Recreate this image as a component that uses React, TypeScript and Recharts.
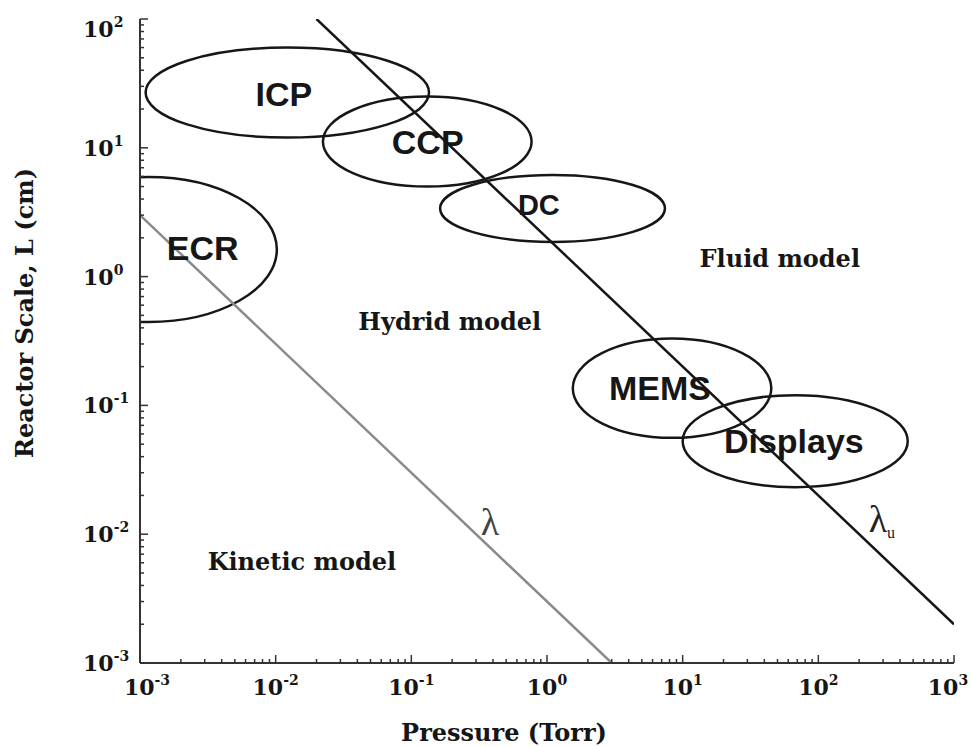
import { ComposedChart, Line, XAxis, YAxis, ReferenceArea, ReferenceDot, Label } from 'recharts';

// axis decades (pressure in Torr, reactor scale in cm)
const pressureDecades = [1e-3, 1e-2, 1e-1, 1, 10, 100, 1000];
const scaleDecades = [1e-3, 1e-2, 1e-1, 1, 10, 100];
const minorSteps = [2, 3, 4, 5, 6, 7, 8, 9];

// mean free path lines
const lambdaLine = [
  { p: 1e-3, v: 3 },
  { p: 3, v: 1e-3 },
];
const lambdaULine = [
  { p: 0.02, v: 100 },
  { p: 1000, v: 0.002 },
];

// operating regions of each reactor type (pressure range x scale range)
const reactors = [
  { name: 'ICP', pMin: 1.1e-3, pMax: 0.135, lMin: 12, lMax: 60 },
  { name: 'CCP', pMin: 0.0223, pMax: 0.77, lMin: 5, lMax: 25 },
  { name: 'DC', pMin: 0.163, pMax: 7.4, lMin: 1.86, lMax: 6.15 },
  { name: 'ECR', pMin: 1.3e-4, pMax: 0.0102, lMin: 0.444, lMax: 5.93 },
  { name: 'MEMS', pMin: 1.55, pMax: 45, lMin: 0.056, lMax: 0.33 },
  { name: 'Displays', pMin: 10, pMax: 456, lMin: 0.0232, lMax: 0.12 },
];

const reactorLabels = [
  { name: 'ICP', p: 0.0115, l: 26.2 },
  { name: 'CCP', p: 0.132, l: 11.1 },
  { name: 'DC', p: 0.871, l: 3.6 },
  { name: 'ECR', p: 0.0029, l: 1.67 },
  { name: 'MEMS', p: 6.8, l: 0.136 },
  { name: 'Displays', p: 66, l: 0.053 },
];

const regionLabels = [
  { text: 'Fluid model', p: 52, l: 1.39 },
  { text: 'Hydrid model', p: 0.192, l: 0.445 },
  { text: 'Kinetic model', p: 0.0156, l: 0.0061 },
];

const lambdaLabels = [
  { text: 'λ', sub: '', p: 0.38, l: 0.0122, color: '#444' },
  { text: 'λ', sub: 'u', p: 294, l: 0.0129, color: '#222' },
];

const withMinor = (decades: number[]) =>
  decades.flatMap((d, i) => (i === decades.length - 1 ? [d] : [d, ...minorSteps.map((s) => s * d)]));

const xTicks = withMinor(pressureDecades);
const yTicks = withMinor(scaleDecades);

const serif = 'DejaVu Serif';
const ink = '#161616';

const isMajor = (v: number, majors: number[]) => majors.some((m) => Math.abs(m - v) / m < 1e-9);

function makeTick(side: 'bottom' | 'top' | 'left' | 'right', majors: number[]) {
  return (props: any) => {
    const { x, y, payload } = props;
    const v = payload.value;
    const major = isMajor(v, majors);
    const len = major ? 8 : 4;
    let line;
    if (side === 'bottom') line = <line x1={x} x2={x} y1={y} y2={y - len} />;
    else if (side === 'top') line = <line x1={x} x2={x} y1={y} y2={y + len} />;
    else if (side === 'left') line = <line x1={x} x2={x + len} y1={y} y2={y} />;
    else line = <line x1={x} x2={x - len} y1={y} y2={y} />;

    let text = null;
    const exp = Math.round(Math.log10(v));
    if (major && side === 'bottom') {
      // end labels nudged inwards like the original
      const nudge = v === majors[0] ? 7 : v === majors[majors.length - 1] ? -6 : 0;
      text = (
        <text x={x + nudge} y={y + 32} textAnchor="middle" fontFamily={serif} fontWeight="bold" fontSize={22} fill={ink}>
          <tspan>10</tspan>
          <tspan dy={-10} fontSize={14}>{exp}</tspan>
        </text>
      );
    } else if (major && side === 'left') {
      const shift = exp === 2 ? 10 : 0;
      text = (
        <text x={x - 57} y={y + 8 + shift} textAnchor="start" fontFamily={serif} fontWeight="bold" fontSize={22} fill={ink}>
          <tspan>10</tspan>
          <tspan dy={-10} fontSize={14}>{exp}</tspan>
        </text>
      );
    }
    return (
      <g stroke="#333" strokeWidth={1.5}>
        {line}
        {text && <g stroke="none">{text}</g>}
      </g>
    );
  };
}

const EllipseShape = (props: any) => {
  const { x, y, width, height, clipPath } = props;
  return (
    <ellipse
      cx={x + width / 2}
      cy={y + height / 2}
      rx={Math.abs(width) / 2}
      ry={Math.abs(height) / 2}
      fill="none"
      stroke={ink}
      strokeWidth={2.5}
      clipPath={clipPath}
    />
  );
};

const axisLine = { stroke: '#333', strokeWidth: 2 };

export default function App() {
  return (
    <div style={{ position: 'absolute', left: 0, top: 0, background: '#fff' }}>
      <ComposedChart width={971} height={747} margin={{ top: 19, right: 17, bottom: 0, left: 0 }}>
        <XAxis
          xAxisId={0}
          dataKey="p"
          type="number"
          scale="log"
          domain={[1e-3, 1e3]}
          allowDataOverflow
          ticks={xTicks}
          interval={0}
          height={84}
          tickLine={false}
          tickSize={0}
          tickMargin={0}
          axisLine={axisLine}
          tick={makeTick('bottom', pressureDecades)}
        >
          <Label
            content={(props: any) => {
              const vb = props.viewBox;
              return (
                <text x={vb.x + vb.width / 2 - 43} y={741} textAnchor="middle" fontFamily={serif} fontWeight="bold" fontSize={24} fill={ink}>
                  Pressure (Torr)
                </text>
              );
            }}
          />
        </XAxis>
        <XAxis
          xAxisId="top"
          orientation="top"
          type="number"
          scale="log"
          domain={[1e-3, 1e3]}
          allowDataOverflow
          ticks={xTicks}
          interval={0}
          height={0}
          tickLine={false}
          tickSize={0}
          tickMargin={0}
          axisLine={axisLine}
          tick={makeTick('top', pressureDecades)}
        />
        <YAxis
          yAxisId={0}
          type="number"
          scale="log"
          domain={[1e-3, 1e2]}
          allowDataOverflow
          ticks={yTicks}
          interval={0}
          width={140}
          tickLine={false}
          tickSize={0}
          tickMargin={0}
          axisLine={axisLine}
          tick={makeTick('left', scaleDecades)}
        >
          <Label
            content={() => (
              <text x={33} y={313} transform="rotate(-90, 33, 313)" textAnchor="middle" fontFamily={serif} fontWeight="bold" fontSize={24} fill={ink}>
                Reactor Scale, L (cm)
              </text>
            )}
          />
        </YAxis>
        <YAxis
          yAxisId="right"
          orientation="right"
          type="number"
          scale="log"
          domain={[1e-3, 1e2]}
          allowDataOverflow
          ticks={yTicks}
          interval={0}
          width={0}
          tickLine={false}
          tickSize={0}
          tickMargin={0}
          axisLine={axisLine}
          tick={makeTick('right', scaleDecades)}
        />

        <Line data={lambdaLine} dataKey="v" type="linear" stroke="#8a8a8a" strokeWidth={2.5} dot={false} isAnimationActive={false} />
        <Line data={lambdaULine} dataKey="v" type="linear" stroke={ink} strokeWidth={2.5} dot={false} isAnimationActive={false} />

        {reactors.map((r) => (
          <ReferenceArea
            key={r.name}
            x1={r.pMin}
            x2={r.pMax}
            y1={r.lMin}
            y2={r.lMax}
            ifOverflow="hidden"
            shape={EllipseShape}
          />
        ))}

        {reactorLabels.map((r) => (
          <ReferenceDot
            key={r.name}
            x={r.p}
            y={r.l}
            r={1}
            fill="none"
            stroke="none"
            label={{
              value: r.name,
              position: 'center',
              fontFamily: 'Liberation Sans',
              fontWeight: 'bold',
              fontSize: r.name === 'DC' ? 29 : 34,
              fill: ink,
            }}
          />
        ))}

        {regionLabels.map((r) => (
          <ReferenceDot
            key={r.text}
            x={r.p}
            y={r.l}
            r={1}
            fill="none"
            stroke="none"
            label={{
              value: r.text,
              position: 'center',
              fontFamily: serif,
              fontWeight: 'bold',
              fontSize: 24,
              fill: ink,
            }}
          />
        ))}

        {lambdaLabels.map((r, i) => (
          <ReferenceDot
            key={i}
            x={r.p}
            y={r.l}
            r={1}
            fill="none"
            stroke="none"
            label={{
              position: 'center',
              content: (props: any) => {
                const vb = props.viewBox;
                const cx = vb.x + vb.width / 2;
                const cy = vb.y + vb.height / 2;
                return (
                  <text x={cx} y={cy + 12} textAnchor="middle" fontFamily="Liberation Serif" fontSize={38} fill={r.color}>
                    {r.text}
                    {r.sub && (
                      <tspan dy={6} fontSize={16}>
                        {r.sub}
                      </tspan>
                    )}
                  </text>
                );
              },
            }}
          />
        ))}
      </ComposedChart>
    </div>
  );
}
